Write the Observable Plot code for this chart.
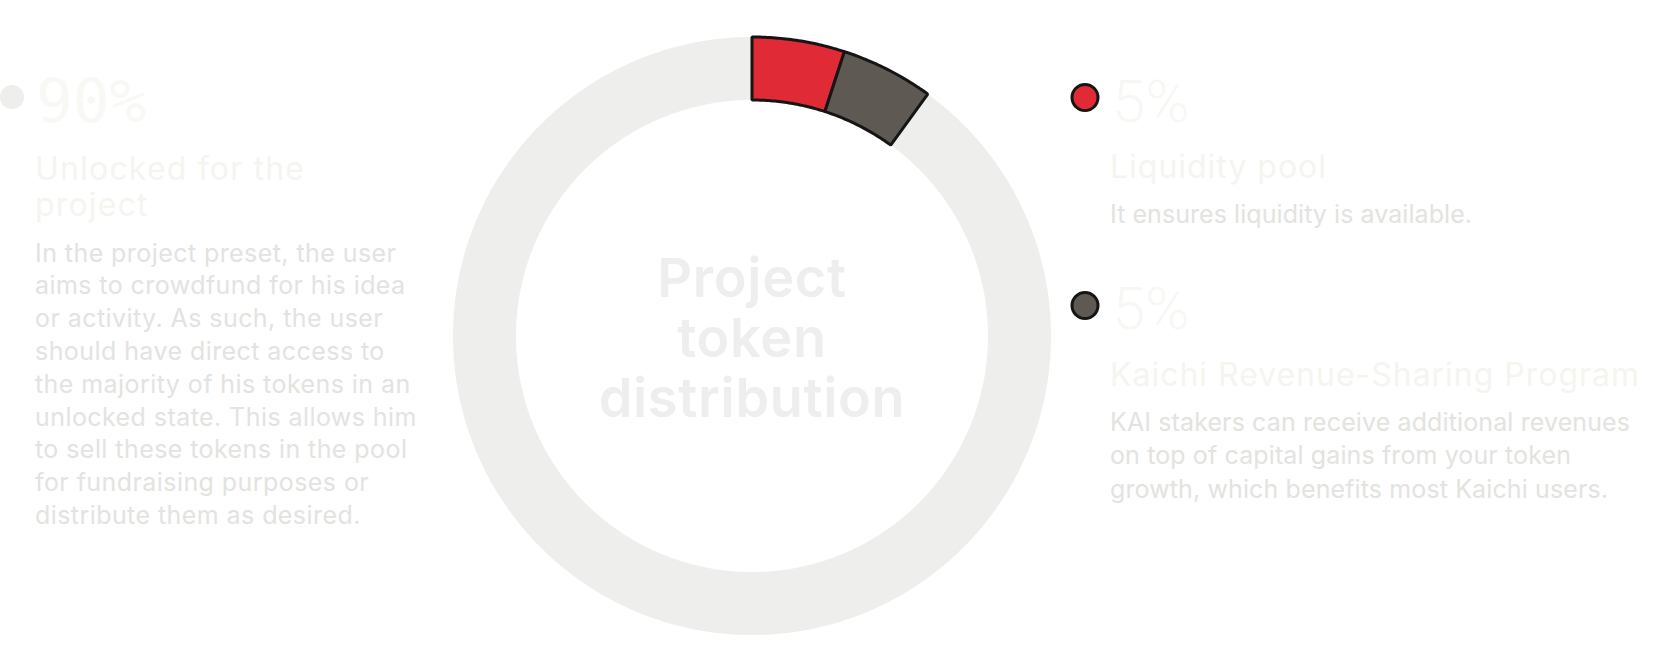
<!DOCTYPE html>
<html>
<head>
<meta charset="utf-8">
<script src="https://cdn.jsdelivr.net/npm/d3@7"></script>
<script src="https://cdn.jsdelivr.net/npm/@observablehq/plot@0.6"></script>
<style>
  html, body { margin: 0; padding: 0; background: #ffffff; }
  #page { position: relative; width: 1665px; height: 654px; overflow: hidden; background: #fff; }
  #chart { position: absolute; left: 432px; top: 0; }
  #legend { position: absolute; left: 0; top: 0; pointer-events: none; }
</style>
</head>
<body>
<div id="page">
  <div id="chart"></div>
  <svg id="legend" width="1665" height="654"></svg>
</div>
<script>
// ---------- data ----------
const categories = ["Unlocked for the project", "Liquidity pool", "Kaichi Revenue-Sharing Program"];
const shares = [90, 5, 5];
const shareLabels = ["90%", "5%", "5%"];
const sliceColors = ["#eeeeec", "#e02a36", "#5e5952"];
// drawing order clockwise from 12 o'clock
const ringOrder = [1, 2, 0];
const headingLines = [["Unlocked for the", "project"], ["Liquidity pool"], ["Kaichi Revenue-Sharing Program"]];
const descriptionLines = [
  ["In the project preset, the user", "aims to crowdfund for his idea", "or activity. As such, the user",
   "should have direct access to", "the majority of his tokens in an", "unlocked state. This allows him",
   "to sell these tokens in the pool", "for fundraising purposes or", "distribute them as desired."],
  ["It ensures liquidity is available."],
  ["KAI stakers can receive additional revenues", "on top of capital gains from your token",
   "growth, which benefits most Kaichi users."]
];
const centerTitle = ["Project", "token", "distribution"];

// ---------- ring geometry (derived from shares) ----------
const innerRatio = 236 / 299;
const total = d3.sum(shares);
const rows = [];
let acc = 0;
for (const i of ringOrder) {
  const a0 = acc / total * 2 * Math.PI;
  acc += shares[i];
  const a1 = acc / total * 2 * Math.PI;
  const n = Math.max(2, Math.ceil((a1 - a0) / (Math.PI / 360)));
  for (let k = 0; k <= n; k++) {
    const a = a0 + (a1 - a0) * k / n;
    rows.push({
      slice: categories[i],
      fg: i !== 0,
      x1: innerRatio * Math.sin(a), y1: innerRatio * Math.cos(a),
      x2: Math.sin(a), y2: Math.cos(a)
    });
  }
}

const chart = Plot.plot({
  width: 640,
  height: 654,
  marginLeft: 21, marginRight: 21, marginTop: 37, marginBottom: 19,
  x: { domain: [-1, 1], axis: null },
  y: { domain: [-1, 1], axis: null },
  color: { domain: categories, range: sliceColors },
  style: { background: "transparent", overflow: "visible" },
  marks: [
    Plot.area(rows.filter(d => !d.fg), { x1: "x1", y1: "y1", x2: "x2", y2: "y2", z: "slice", fill: "slice" }),
    Plot.area(rows.filter(d => d.fg), { x1: "x1", y1: "y1", x2: "x2", y2: "y2", z: "slice", fill: "slice",
      stroke: "#151515", strokeWidth: 3, strokeLinejoin: "miter" })
  ]
});
document.getElementById("chart").appendChild(chart);

// ---------- legend / labels ----------
const svg = d3.select("#legend");
const SANS = "Inter, 'Noto Sans', sans-serif";
const THIN = "Roboto, 'Noto Sans', sans-serif";
const MONO = "'DejaVu Sans Mono', monospace";

function block({x, y, lines, lh, size, family, weight, fill, anchor = "start", refIndex = 0, refWidth = null}) {
  const g = svg.append("g");
  const nodes = lines.map((t, i) => g.append("text")
    .attr("x", x).attr("y", y + i * lh)
    .attr("font-family", family).attr("font-size", size).attr("font-weight", weight)
    .attr("fill", fill).attr("text-anchor", anchor)
    .text(t));
  if (refWidth != null) {
    const node = nodes[refIndex].node();
    const len = node.getComputedTextLength();
    const nch = lines[refIndex].length;
    const ls = (refWidth - len) / Math.max(1, nch - 1);
    nodes.forEach(n => n.attr("letter-spacing", ls.toFixed(3)));
  }
  return g;
}

// Left block (90%)
svg.append("circle").attr("cx", 12).attr("cy", 97).attr("r", 12).attr("fill", sliceColors[0]);
block({x: 36, y: 122, lines: [shareLabels[0]], lh: 0, size: 61, family: MONO, weight: 400, fill: "#f8f8f4"});
block({x: 35, y: 180, lines: headingLines[0], lh: 36, size: 32, family: SANS, weight: 400, fill: "#f5f5f0", refWidth: 269});
block({x: 35, y: 261.5, lines: descriptionLines[0], lh: 32.8, size: 25, family: SANS, weight: 400, fill: "#e3e3df", refWidth: 361});

// Right blocks
const rightX = 1110;
const dotX = 1085;
[[1, 97.5, 122, 178, 223, 216], [2, 305.5, 329, 386, 431, 529]].forEach(([i, dotY, pctY, headY, descY, headW]) => {
  svg.append("circle").attr("cx", dotX).attr("cy", dotY).attr("r", 13)
    .attr("fill", sliceColors[i]).attr("stroke", "#151515").attr("stroke-width", 3);
  block({x: rightX + 2, y: pctY, lines: [shareLabels[i]], lh: 0, size: 60, family: THIN, weight: 300, fill: "#f7f7f3"});
  block({x: rightX, y: headY, lines: headingLines[i], lh: 36, size: 32, family: SANS, weight: 400, fill: "#f5f5f0", refWidth: headW});
  block({x: rightX, y: descY, lines: descriptionLines[i], lh: 33.3, size: 25, family: SANS, weight: 400, fill: "#e3e3df",
         refWidth: i === 1 ? 362 : 520});
});

// Center title
block({x: 752, y: 297, lines: centerTitle, lh: 60, size: 54, family: SANS, weight: 600, fill: "#eeeeee", anchor: "middle", refIndex: 2, refWidth: 306});
</script>
</body>
</html>
